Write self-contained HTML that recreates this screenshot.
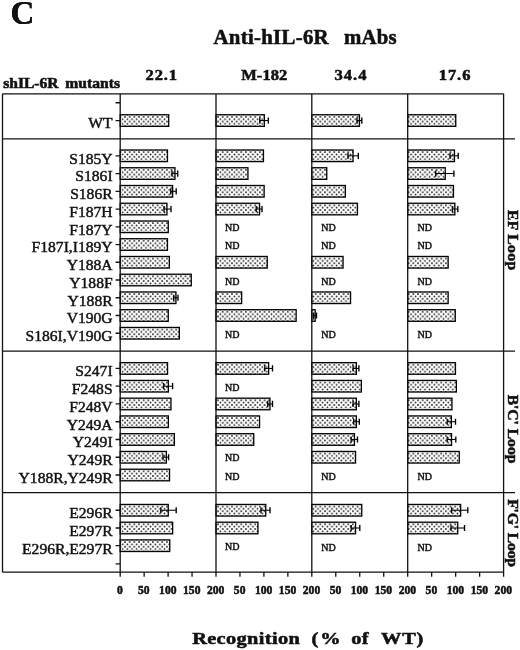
<!DOCTYPE html>
<html><head><meta charset="utf-8"><title>Anti-hIL-6R mAbs recognition of shIL-6R mutants</title>
<style>html,body{margin:0;padding:0;background:#fff;}svg{display:block;}text{font-family:"Liberation Serif","Times New Roman",serif;fill:#111;stroke:#111;stroke-width:0.45px;}.b{font-weight:bold;stroke-width:0.55px;}</style></head><body>
<svg width="520" height="650" viewBox="0 0 520 650">
<defs><pattern id="d0" patternUnits="userSpaceOnUse" width="4.65" height="4.7" x="-0.5" y="116.85"><circle cx="0" cy="0" r="0.85" fill="#111"/><circle cx="4.65" cy="0" r="0.85" fill="#111"/><circle cx="0" cy="4.7" r="0.85" fill="#111"/><circle cx="4.65" cy="4.7" r="0.85" fill="#111"/><circle cx="2.33" cy="2.35" r="0.85" fill="#111"/></pattern><pattern id="d1" patternUnits="userSpaceOnUse" width="4.65" height="4.7" x="-0.5" y="152.10"><circle cx="0" cy="0" r="0.85" fill="#111"/><circle cx="4.65" cy="0" r="0.85" fill="#111"/><circle cx="0" cy="4.7" r="0.85" fill="#111"/><circle cx="4.65" cy="4.7" r="0.85" fill="#111"/><circle cx="2.33" cy="2.35" r="0.85" fill="#111"/></pattern><pattern id="d2" patternUnits="userSpaceOnUse" width="4.65" height="4.7" x="-0.5" y="169.84"><circle cx="0" cy="0" r="0.85" fill="#111"/><circle cx="4.65" cy="0" r="0.85" fill="#111"/><circle cx="0" cy="4.7" r="0.85" fill="#111"/><circle cx="4.65" cy="4.7" r="0.85" fill="#111"/><circle cx="2.33" cy="2.35" r="0.85" fill="#111"/></pattern><pattern id="d3" patternUnits="userSpaceOnUse" width="4.65" height="4.7" x="-0.5" y="187.59"><circle cx="0" cy="0" r="0.85" fill="#111"/><circle cx="4.65" cy="0" r="0.85" fill="#111"/><circle cx="0" cy="4.7" r="0.85" fill="#111"/><circle cx="4.65" cy="4.7" r="0.85" fill="#111"/><circle cx="2.33" cy="2.35" r="0.85" fill="#111"/></pattern><pattern id="d4" patternUnits="userSpaceOnUse" width="4.65" height="4.7" x="-0.5" y="205.34"><circle cx="0" cy="0" r="0.85" fill="#111"/><circle cx="4.65" cy="0" r="0.85" fill="#111"/><circle cx="0" cy="4.7" r="0.85" fill="#111"/><circle cx="4.65" cy="4.7" r="0.85" fill="#111"/><circle cx="2.33" cy="2.35" r="0.85" fill="#111"/></pattern><pattern id="d5" patternUnits="userSpaceOnUse" width="4.65" height="4.7" x="-0.5" y="223.08"><circle cx="0" cy="0" r="0.85" fill="#111"/><circle cx="4.65" cy="0" r="0.85" fill="#111"/><circle cx="0" cy="4.7" r="0.85" fill="#111"/><circle cx="4.65" cy="4.7" r="0.85" fill="#111"/><circle cx="2.33" cy="2.35" r="0.85" fill="#111"/></pattern><pattern id="d6" patternUnits="userSpaceOnUse" width="4.65" height="4.7" x="-0.5" y="240.83"><circle cx="0" cy="0" r="0.85" fill="#111"/><circle cx="4.65" cy="0" r="0.85" fill="#111"/><circle cx="0" cy="4.7" r="0.85" fill="#111"/><circle cx="4.65" cy="4.7" r="0.85" fill="#111"/><circle cx="2.33" cy="2.35" r="0.85" fill="#111"/></pattern><pattern id="d7" patternUnits="userSpaceOnUse" width="4.65" height="4.7" x="-0.5" y="258.57"><circle cx="0" cy="0" r="0.85" fill="#111"/><circle cx="4.65" cy="0" r="0.85" fill="#111"/><circle cx="0" cy="4.7" r="0.85" fill="#111"/><circle cx="4.65" cy="4.7" r="0.85" fill="#111"/><circle cx="2.33" cy="2.35" r="0.85" fill="#111"/></pattern><pattern id="d8" patternUnits="userSpaceOnUse" width="4.65" height="4.7" x="-0.5" y="276.31"><circle cx="0" cy="0" r="0.85" fill="#111"/><circle cx="4.65" cy="0" r="0.85" fill="#111"/><circle cx="0" cy="4.7" r="0.85" fill="#111"/><circle cx="4.65" cy="4.7" r="0.85" fill="#111"/><circle cx="2.33" cy="2.35" r="0.85" fill="#111"/></pattern><pattern id="d9" patternUnits="userSpaceOnUse" width="4.65" height="4.7" x="-0.5" y="294.06"><circle cx="0" cy="0" r="0.85" fill="#111"/><circle cx="4.65" cy="0" r="0.85" fill="#111"/><circle cx="0" cy="4.7" r="0.85" fill="#111"/><circle cx="4.65" cy="4.7" r="0.85" fill="#111"/><circle cx="2.33" cy="2.35" r="0.85" fill="#111"/></pattern><pattern id="d10" patternUnits="userSpaceOnUse" width="4.65" height="4.7" x="-0.5" y="311.81"><circle cx="0" cy="0" r="0.85" fill="#111"/><circle cx="4.65" cy="0" r="0.85" fill="#111"/><circle cx="0" cy="4.7" r="0.85" fill="#111"/><circle cx="4.65" cy="4.7" r="0.85" fill="#111"/><circle cx="2.33" cy="2.35" r="0.85" fill="#111"/></pattern><pattern id="d11" patternUnits="userSpaceOnUse" width="4.65" height="4.7" x="-0.5" y="329.55"><circle cx="0" cy="0" r="0.85" fill="#111"/><circle cx="4.65" cy="0" r="0.85" fill="#111"/><circle cx="0" cy="4.7" r="0.85" fill="#111"/><circle cx="4.65" cy="4.7" r="0.85" fill="#111"/><circle cx="2.33" cy="2.35" r="0.85" fill="#111"/></pattern><pattern id="d12" patternUnits="userSpaceOnUse" width="4.65" height="4.7" x="-0.5" y="364.75"><circle cx="0" cy="0" r="0.85" fill="#111"/><circle cx="4.65" cy="0" r="0.85" fill="#111"/><circle cx="0" cy="4.7" r="0.85" fill="#111"/><circle cx="4.65" cy="4.7" r="0.85" fill="#111"/><circle cx="2.33" cy="2.35" r="0.85" fill="#111"/></pattern><pattern id="d13" patternUnits="userSpaceOnUse" width="4.65" height="4.7" x="-0.5" y="382.51"><circle cx="0" cy="0" r="0.85" fill="#111"/><circle cx="4.65" cy="0" r="0.85" fill="#111"/><circle cx="0" cy="4.7" r="0.85" fill="#111"/><circle cx="4.65" cy="4.7" r="0.85" fill="#111"/><circle cx="2.33" cy="2.35" r="0.85" fill="#111"/></pattern><pattern id="d14" patternUnits="userSpaceOnUse" width="4.65" height="4.7" x="-0.5" y="400.27"><circle cx="0" cy="0" r="0.85" fill="#111"/><circle cx="4.65" cy="0" r="0.85" fill="#111"/><circle cx="0" cy="4.7" r="0.85" fill="#111"/><circle cx="4.65" cy="4.7" r="0.85" fill="#111"/><circle cx="2.33" cy="2.35" r="0.85" fill="#111"/></pattern><pattern id="d15" patternUnits="userSpaceOnUse" width="4.65" height="4.7" x="-0.5" y="418.03"><circle cx="0" cy="0" r="0.85" fill="#111"/><circle cx="4.65" cy="0" r="0.85" fill="#111"/><circle cx="0" cy="4.7" r="0.85" fill="#111"/><circle cx="4.65" cy="4.7" r="0.85" fill="#111"/><circle cx="2.33" cy="2.35" r="0.85" fill="#111"/></pattern><pattern id="d16" patternUnits="userSpaceOnUse" width="4.65" height="4.7" x="-0.5" y="435.79"><circle cx="0" cy="0" r="0.85" fill="#111"/><circle cx="4.65" cy="0" r="0.85" fill="#111"/><circle cx="0" cy="4.7" r="0.85" fill="#111"/><circle cx="4.65" cy="4.7" r="0.85" fill="#111"/><circle cx="2.33" cy="2.35" r="0.85" fill="#111"/></pattern><pattern id="d17" patternUnits="userSpaceOnUse" width="4.65" height="4.7" x="-0.5" y="453.55"><circle cx="0" cy="0" r="0.85" fill="#111"/><circle cx="4.65" cy="0" r="0.85" fill="#111"/><circle cx="0" cy="4.7" r="0.85" fill="#111"/><circle cx="4.65" cy="4.7" r="0.85" fill="#111"/><circle cx="2.33" cy="2.35" r="0.85" fill="#111"/></pattern><pattern id="d18" patternUnits="userSpaceOnUse" width="4.65" height="4.7" x="-0.5" y="471.31"><circle cx="0" cy="0" r="0.85" fill="#111"/><circle cx="4.65" cy="0" r="0.85" fill="#111"/><circle cx="0" cy="4.7" r="0.85" fill="#111"/><circle cx="4.65" cy="4.7" r="0.85" fill="#111"/><circle cx="2.33" cy="2.35" r="0.85" fill="#111"/></pattern><pattern id="d19" patternUnits="userSpaceOnUse" width="4.65" height="4.7" x="-0.5" y="506.55"><circle cx="0" cy="0" r="0.85" fill="#111"/><circle cx="4.65" cy="0" r="0.85" fill="#111"/><circle cx="0" cy="4.7" r="0.85" fill="#111"/><circle cx="4.65" cy="4.7" r="0.85" fill="#111"/><circle cx="2.33" cy="2.35" r="0.85" fill="#111"/></pattern><pattern id="d20" patternUnits="userSpaceOnUse" width="4.65" height="4.7" x="-0.5" y="524.30"><circle cx="0" cy="0" r="0.85" fill="#111"/><circle cx="4.65" cy="0" r="0.85" fill="#111"/><circle cx="0" cy="4.7" r="0.85" fill="#111"/><circle cx="4.65" cy="4.7" r="0.85" fill="#111"/><circle cx="2.33" cy="2.35" r="0.85" fill="#111"/></pattern><pattern id="d21" patternUnits="userSpaceOnUse" width="4.65" height="4.7" x="-0.5" y="542.00"><circle cx="0" cy="0" r="0.85" fill="#111"/><circle cx="4.65" cy="0" r="0.85" fill="#111"/><circle cx="0" cy="4.7" r="0.85" fill="#111"/><circle cx="4.65" cy="4.7" r="0.85" fill="#111"/><circle cx="2.33" cy="2.35" r="0.85" fill="#111"/></pattern></defs>
<rect width="520" height="650" fill="#fff"/>
<text class="b" x="10.4" y="23.6" font-size="33" style="stroke-width:0.15px">C</text>
<text class="b" x="10.4" y="23.6" font-size="33" style="stroke-width:0.15px">C</text>
<text class="b" x="213.45" y="43.7" font-size="20.8" textLength="115.17" lengthAdjust="spacing">Anti-hIL-6R</text>
<text class="b" x="344.04" y="43.7" font-size="20.8" textLength="52.67" lengthAdjust="spacing">mAbs</text>
<text class="b" transform="translate(3.28,87.5) scale(1.07,1)" font-size="14.6" textLength="51.72" lengthAdjust="spacing">shIL-6R</text>
<text class="b" transform="translate(65.18,87.5) scale(1.07,1)" font-size="14.6" textLength="51.36" lengthAdjust="spacing">mutants</text>
<text class="b" transform="translate(145.56,80) scale(1.1,1)" font-size="15" textLength="28.68" lengthAdjust="spacing">22.1</text>
<text class="b" transform="translate(241.22,80) scale(1.1,1)" font-size="15" textLength="41.81" lengthAdjust="spacing">M-182</text>
<text class="b" transform="translate(334.38,80) scale(1.1,1)" font-size="15" textLength="29.25" lengthAdjust="spacing">34.4</text>
<text class="b" transform="translate(438.68,80) scale(1.1,1)" font-size="15" textLength="28.91" lengthAdjust="spacing">17.6</text>
<text transform="translate(112.6,128.45) scale(1.04,1)" font-size="15" text-anchor="end">WT</text>
<text transform="translate(112.6,163.70) scale(1.04,1)" font-size="15" text-anchor="end">S185Y</text>
<text transform="translate(112.6,181.45) scale(1.04,1)" font-size="15" text-anchor="end">S186I</text>
<text transform="translate(112.6,199.19) scale(1.04,1)" font-size="15" text-anchor="end">S186R</text>
<text transform="translate(112.6,216.94) scale(1.04,1)" font-size="15" text-anchor="end">F187H</text>
<text transform="translate(112.6,234.68) scale(1.04,1)" font-size="15" text-anchor="end">F187Y</text>
<text transform="translate(112.6,252.43) scale(1.04,1)" font-size="15" text-anchor="end">F187I,I189Y</text>
<text transform="translate(112.6,270.17) scale(1.04,1)" font-size="15" text-anchor="end">Y188A</text>
<text transform="translate(112.6,287.91) scale(1.04,1)" font-size="15" text-anchor="end">Y188F</text>
<text transform="translate(112.6,305.66) scale(1.04,1)" font-size="15" text-anchor="end">Y188R</text>
<text transform="translate(112.6,323.40) scale(1.04,1)" font-size="15" text-anchor="end">V190G</text>
<text transform="translate(112.6,341.15) scale(1.04,1)" font-size="15" text-anchor="end">S186I,V190G</text>
<text transform="translate(112.6,376.35) scale(1.04,1)" font-size="15" text-anchor="end">S247I</text>
<text transform="translate(112.6,394.11) scale(1.04,1)" font-size="15" text-anchor="end">F248S</text>
<text transform="translate(112.6,411.87) scale(1.04,1)" font-size="15" text-anchor="end">F248V</text>
<text transform="translate(112.6,429.63) scale(1.04,1)" font-size="15" text-anchor="end">Y249A</text>
<text transform="translate(112.6,447.39) scale(1.04,1)" font-size="15" text-anchor="end">Y249I</text>
<text transform="translate(112.6,465.15) scale(1.04,1)" font-size="15" text-anchor="end">Y249R</text>
<text transform="translate(112.6,482.91) scale(1.04,1)" font-size="15" text-anchor="end">Y188R,Y249R</text>
<text transform="translate(112.6,518.15) scale(1.04,1)" font-size="15" text-anchor="end">E296R</text>
<text transform="translate(112.6,535.90) scale(1.04,1)" font-size="15" text-anchor="end">E297R</text>
<text transform="translate(112.6,553.60) scale(1.04,1)" font-size="15" text-anchor="end">E296R,E297R</text>
<text class="b" transform="translate(507.7,209.93) rotate(90) scale(1.05,1)" font-size="15" textLength="57.44" lengthAdjust="spacing">EF Loop</text>
<text class="b" transform="translate(507.7,394.64) rotate(90) scale(1.05,1)" font-size="15" textLength="65.52" lengthAdjust="spacing">B'C' Loop</text>
<text class="b" transform="translate(507.7,499.23) rotate(90) scale(1.05,1)" font-size="15" textLength="64.58" lengthAdjust="spacing">F'G' Loop</text>
<text class="b" transform="translate(192.15,643.8) scale(1.15,1)" font-size="17.7" textLength="93.61" lengthAdjust="spacing">Recognition</text>
<text class="b" transform="translate(311.61,643.8) scale(1.15,1)" font-size="17.7" textLength="25.26" lengthAdjust="spacing">(%</text>
<text class="b" transform="translate(351.22,643.8) scale(1.15,1)" font-size="17.7" textLength="15.07" lengthAdjust="spacing">of</text>
<text class="b" transform="translate(380.96,643.8) scale(1.15,1)" font-size="17.7" textLength="36.90" lengthAdjust="spacing">WT)</text>
<text class="b" transform="translate(119.90,594.1) scale(0.92,1)" font-size="12.6" text-anchor="middle">0</text>
<text class="b" transform="translate(143.85,594.1) scale(0.92,1)" font-size="12.6" text-anchor="middle">50</text>
<text class="b" transform="translate(167.80,594.1) scale(0.92,1)" font-size="12.6" text-anchor="middle">100</text>
<text class="b" transform="translate(191.75,594.1) scale(0.92,1)" font-size="12.6" text-anchor="middle">150</text>
<text class="b" transform="translate(215.70,594.1) scale(0.92,1)" font-size="12.6" text-anchor="middle">200</text>
<text class="b" transform="translate(239.65,594.1) scale(0.92,1)" font-size="12.6" text-anchor="middle">50</text>
<text class="b" transform="translate(263.60,594.1) scale(0.92,1)" font-size="12.6" text-anchor="middle">100</text>
<text class="b" transform="translate(287.55,594.1) scale(0.92,1)" font-size="12.6" text-anchor="middle">150</text>
<text class="b" transform="translate(311.50,594.1) scale(0.92,1)" font-size="12.6" text-anchor="middle">200</text>
<text class="b" transform="translate(335.47,594.1) scale(0.92,1)" font-size="12.6" text-anchor="middle">50</text>
<text class="b" transform="translate(359.45,594.1) scale(0.92,1)" font-size="12.6" text-anchor="middle">100</text>
<text class="b" transform="translate(383.43,594.1) scale(0.92,1)" font-size="12.6" text-anchor="middle">150</text>
<text class="b" transform="translate(407.40,594.1) scale(0.92,1)" font-size="12.6" text-anchor="middle">200</text>
<text class="b" transform="translate(431.38,594.1) scale(0.92,1)" font-size="12.6" text-anchor="middle">50</text>
<text class="b" transform="translate(455.35,594.1) scale(0.92,1)" font-size="12.6" text-anchor="middle">100</text>
<text class="b" transform="translate(479.32,594.1) scale(0.92,1)" font-size="12.6" text-anchor="middle">150</text>
<text class="b" transform="translate(503.30,594.1) scale(0.92,1)" font-size="12.6" text-anchor="middle">200</text>
<rect x="120.20" y="114.75" width="48.50" height="11.6" fill="url(#d0)" stroke="#000" stroke-width="1.3"/>
<rect x="120.20" y="150.00" width="47.25" height="11.6" fill="url(#d1)" stroke="#000" stroke-width="1.3"/>
<rect x="120.20" y="167.75" width="54.75" height="11.6" fill="url(#d2)" stroke="#000" stroke-width="1.3"/>
<path d="M172.00 173.55H177.70" stroke="#000" stroke-width="1.05" fill="none"/><path d="M172.00 170.45V176.65M177.70 170.45V176.65" stroke="#000" stroke-width="1.35" fill="none"/>
<rect x="120.20" y="185.49" width="52.45" height="11.6" fill="url(#d3)" stroke="#000" stroke-width="1.3"/>
<path d="M170.80 191.29H176.20" stroke="#000" stroke-width="1.05" fill="none"/><path d="M170.80 188.19V194.39M176.20 188.19V194.39" stroke="#000" stroke-width="1.35" fill="none"/>
<rect x="120.20" y="203.24" width="46.75" height="11.6" fill="url(#d4)" stroke="#000" stroke-width="1.3"/>
<path d="M164.00 209.04H171.00" stroke="#000" stroke-width="1.05" fill="none"/><path d="M164.00 205.94V212.14M171.00 205.94V212.14" stroke="#000" stroke-width="1.35" fill="none"/>
<rect x="120.20" y="220.98" width="48.05" height="11.6" fill="url(#d5)" stroke="#000" stroke-width="1.3"/>
<rect x="120.20" y="238.73" width="47.25" height="11.6" fill="url(#d6)" stroke="#000" stroke-width="1.3"/>
<rect x="120.20" y="256.47" width="49.15" height="11.6" fill="url(#d7)" stroke="#000" stroke-width="1.3"/>
<rect x="120.20" y="274.21" width="71.05" height="11.6" fill="url(#d8)" stroke="#000" stroke-width="1.3"/>
<rect x="120.20" y="291.96" width="55.75" height="11.6" fill="url(#d9)" stroke="#000" stroke-width="1.3"/>
<path d="M173.70 297.76H178.00" stroke="#000" stroke-width="1.05" fill="none"/><path d="M173.70 294.66V300.86M178.00 294.66V300.86" stroke="#000" stroke-width="1.35" fill="none"/>
<rect x="120.20" y="309.70" width="48.05" height="11.6" fill="url(#d10)" stroke="#000" stroke-width="1.3"/>
<rect x="120.20" y="327.45" width="59.15" height="11.6" fill="url(#d11)" stroke="#000" stroke-width="1.3"/>
<rect x="120.20" y="362.65" width="47.35" height="11.6" fill="url(#d12)" stroke="#000" stroke-width="1.3"/>
<rect x="120.20" y="380.41" width="48.15" height="11.6" fill="url(#d13)" stroke="#000" stroke-width="1.3"/>
<path d="M163.60 386.21H172.60" stroke="#000" stroke-width="1.05" fill="none"/><path d="M163.60 383.11V389.31M172.60 383.11V389.31" stroke="#000" stroke-width="1.35" fill="none"/>
<rect x="120.20" y="398.17" width="50.75" height="11.6" fill="url(#d14)" stroke="#000" stroke-width="1.3"/>
<rect x="120.20" y="415.93" width="48.15" height="11.6" fill="url(#d15)" stroke="#000" stroke-width="1.3"/>
<rect x="120.20" y="433.69" width="54.15" height="11.6" fill="url(#d16)" stroke="#000" stroke-width="1.3"/>
<rect x="120.20" y="451.45" width="46.15" height="11.6" fill="url(#d17)" stroke="#000" stroke-width="1.3"/>
<path d="M163.00 457.25H168.60" stroke="#000" stroke-width="1.05" fill="none"/><path d="M163.00 454.15V460.35M168.60 454.15V460.35" stroke="#000" stroke-width="1.35" fill="none"/>
<rect x="120.20" y="469.21" width="49.35" height="11.6" fill="url(#d18)" stroke="#000" stroke-width="1.3"/>
<rect x="120.20" y="504.45" width="48.05" height="11.6" fill="url(#d19)" stroke="#000" stroke-width="1.3"/>
<path d="M160.80 510.25H176.20" stroke="#000" stroke-width="1.05" fill="none"/><path d="M160.80 507.15V513.35M176.20 507.15V513.35" stroke="#000" stroke-width="1.35" fill="none"/>
<rect x="120.20" y="522.20" width="52.45" height="11.6" fill="url(#d20)" stroke="#000" stroke-width="1.3"/>
<rect x="120.20" y="539.90" width="49.55" height="11.6" fill="url(#d21)" stroke="#000" stroke-width="1.3"/>
<rect x="216.00" y="114.75" width="48.35" height="11.6" fill="url(#d0)" stroke="#000" stroke-width="1.3"/>
<path d="M259.80 120.55H268.30" stroke="#000" stroke-width="1.05" fill="none"/><path d="M259.80 117.45V123.65M268.30 117.45V123.65" stroke="#000" stroke-width="1.35" fill="none"/>
<rect x="216.00" y="150.00" width="47.45" height="11.6" fill="url(#d1)" stroke="#000" stroke-width="1.3"/>
<rect x="216.00" y="167.75" width="31.95" height="11.6" fill="url(#d2)" stroke="#000" stroke-width="1.3"/>
<rect x="216.00" y="185.49" width="48.15" height="11.6" fill="url(#d3)" stroke="#000" stroke-width="1.3"/>
<rect x="216.00" y="203.24" width="43.55" height="11.6" fill="url(#d4)" stroke="#000" stroke-width="1.3"/>
<path d="M256.20 209.04H262.00" stroke="#000" stroke-width="1.05" fill="none"/><path d="M256.20 205.94V212.14M262.00 205.94V212.14" stroke="#000" stroke-width="1.35" fill="none"/>
<text x="224.91" y="231.28" font-size="10">ND</text>
<text x="224.91" y="248.78" font-size="10">ND</text>
<rect x="216.00" y="256.47" width="51.25" height="11.6" fill="url(#d7)" stroke="#000" stroke-width="1.3"/>
<text x="224.91" y="285.38" font-size="10">ND</text>
<rect x="216.00" y="291.96" width="25.65" height="11.6" fill="url(#d9)" stroke="#000" stroke-width="1.3"/>
<rect x="216.00" y="309.70" width="80.15" height="11.6" fill="url(#d10)" stroke="#000" stroke-width="1.3"/>
<text x="224.91" y="337.58" font-size="10">ND</text>
<rect x="216.00" y="362.65" width="52.65" height="11.6" fill="url(#d12)" stroke="#000" stroke-width="1.3"/>
<path d="M264.80 368.45H272.50" stroke="#000" stroke-width="1.05" fill="none"/><path d="M264.80 365.35V371.55M272.50 365.35V371.55" stroke="#000" stroke-width="1.35" fill="none"/>
<text x="224.91" y="391.38" font-size="10">ND</text>
<rect x="216.00" y="398.17" width="53.95" height="11.6" fill="url(#d14)" stroke="#000" stroke-width="1.3"/>
<path d="M267.70 403.97H272.50" stroke="#000" stroke-width="1.05" fill="none"/><path d="M267.70 400.87V407.07M272.50 400.87V407.07" stroke="#000" stroke-width="1.35" fill="none"/>
<rect x="216.00" y="415.93" width="43.55" height="11.6" fill="url(#d15)" stroke="#000" stroke-width="1.3"/>
<rect x="216.00" y="433.69" width="37.75" height="11.6" fill="url(#d16)" stroke="#000" stroke-width="1.3"/>
<text x="224.91" y="460.98" font-size="10">ND</text>
<text x="224.91" y="480.38" font-size="10">ND</text>
<rect x="216.00" y="504.45" width="49.75" height="11.6" fill="url(#d19)" stroke="#000" stroke-width="1.3"/>
<path d="M261.00 510.25H270.00" stroke="#000" stroke-width="1.05" fill="none"/><path d="M261.00 507.15V513.35M270.00 507.15V513.35" stroke="#000" stroke-width="1.35" fill="none"/>
<rect x="216.00" y="522.20" width="41.95" height="11.6" fill="url(#d20)" stroke="#000" stroke-width="1.3"/>
<text x="224.91" y="549.98" font-size="10">ND</text>
<rect x="311.80" y="114.75" width="47.65" height="11.6" fill="url(#d0)" stroke="#000" stroke-width="1.3"/>
<path d="M357.00 120.55H361.80" stroke="#000" stroke-width="1.05" fill="none"/><path d="M357.00 117.45V123.65M361.80 117.45V123.65" stroke="#000" stroke-width="1.35" fill="none"/>
<rect x="311.80" y="150.00" width="41.25" height="11.6" fill="url(#d1)" stroke="#000" stroke-width="1.3"/>
<path d="M348.00 155.80H358.30" stroke="#000" stroke-width="1.05" fill="none"/><path d="M348.00 152.70V158.90M358.30 152.70V158.90" stroke="#000" stroke-width="1.35" fill="none"/>
<rect x="311.80" y="167.75" width="14.95" height="11.6" fill="url(#d2)" stroke="#000" stroke-width="1.3"/>
<rect x="311.80" y="185.49" width="33.55" height="11.6" fill="url(#d3)" stroke="#000" stroke-width="1.3"/>
<rect x="311.80" y="203.24" width="45.65" height="11.6" fill="url(#d4)" stroke="#000" stroke-width="1.3"/>
<text x="321.31" y="231.28" font-size="10">ND</text>
<text x="321.31" y="248.78" font-size="10">ND</text>
<rect x="311.80" y="256.47" width="31.25" height="11.6" fill="url(#d7)" stroke="#000" stroke-width="1.3"/>
<text x="321.31" y="285.38" font-size="10">ND</text>
<rect x="311.80" y="291.96" width="38.75" height="11.6" fill="url(#d9)" stroke="#000" stroke-width="1.3"/>
<rect x="311.80" y="309.70" width="3.35" height="11.6" fill="url(#d10)" stroke="#000" stroke-width="1.3"/>
<path d="M313.50 315.50H316.50" stroke="#000" stroke-width="1.05" fill="none"/><path d="M313.50 312.40V318.61M316.50 312.40V318.61" stroke="#000" stroke-width="1.35" fill="none"/>
<text x="321.31" y="337.58" font-size="10">ND</text>
<rect x="311.80" y="362.65" width="44.55" height="11.6" fill="url(#d12)" stroke="#000" stroke-width="1.3"/>
<path d="M353.10 368.45H358.90" stroke="#000" stroke-width="1.05" fill="none"/><path d="M353.10 365.35V371.55M358.90 365.35V371.55" stroke="#000" stroke-width="1.35" fill="none"/>
<rect x="311.80" y="380.41" width="49.55" height="11.6" fill="url(#d13)" stroke="#000" stroke-width="1.3"/>
<rect x="311.80" y="398.17" width="44.55" height="11.6" fill="url(#d14)" stroke="#000" stroke-width="1.3"/>
<path d="M353.10 403.97H358.90" stroke="#000" stroke-width="1.05" fill="none"/><path d="M353.10 400.87V407.07M358.90 400.87V407.07" stroke="#000" stroke-width="1.35" fill="none"/>
<rect x="311.80" y="415.93" width="44.55" height="11.6" fill="url(#d15)" stroke="#000" stroke-width="1.3"/>
<path d="M353.70 421.73H359.30" stroke="#000" stroke-width="1.05" fill="none"/><path d="M353.70 418.63V424.83M359.30 418.63V424.83" stroke="#000" stroke-width="1.35" fill="none"/>
<rect x="311.80" y="433.69" width="42.65" height="11.6" fill="url(#d16)" stroke="#000" stroke-width="1.3"/>
<path d="M351.20 439.49H357.50" stroke="#000" stroke-width="1.05" fill="none"/><path d="M351.20 436.39V442.59M357.50 436.39V442.59" stroke="#000" stroke-width="1.35" fill="none"/>
<rect x="311.80" y="451.45" width="43.75" height="11.6" fill="url(#d17)" stroke="#000" stroke-width="1.3"/>
<text x="321.31" y="480.38" font-size="10">ND</text>
<rect x="311.80" y="504.45" width="49.95" height="11.6" fill="url(#d19)" stroke="#000" stroke-width="1.3"/>
<rect x="311.80" y="522.20" width="43.75" height="11.6" fill="url(#d20)" stroke="#000" stroke-width="1.3"/>
<path d="M351.20 528.00H359.80" stroke="#000" stroke-width="1.05" fill="none"/><path d="M351.20 524.90V531.10M359.80 524.90V531.10" stroke="#000" stroke-width="1.35" fill="none"/>
<text x="321.31" y="550.88" font-size="10">ND</text>
<rect x="407.70" y="114.75" width="48.05" height="11.6" fill="url(#d0)" stroke="#000" stroke-width="1.3"/>
<rect x="407.70" y="150.00" width="46.75" height="11.6" fill="url(#d1)" stroke="#000" stroke-width="1.3"/>
<path d="M450.00 155.80H458.20" stroke="#000" stroke-width="1.05" fill="none"/><path d="M450.00 152.70V158.90M458.20 152.70V158.90" stroke="#000" stroke-width="1.35" fill="none"/>
<rect x="407.70" y="167.75" width="37.55" height="11.6" fill="url(#d2)" stroke="#000" stroke-width="1.3"/>
<path d="M435.70 173.55H453.90" stroke="#000" stroke-width="1.05" fill="none"/><path d="M435.70 170.45V176.65M453.90 170.45V176.65" stroke="#000" stroke-width="1.35" fill="none"/>
<rect x="407.70" y="185.49" width="45.75" height="11.6" fill="url(#d3)" stroke="#000" stroke-width="1.3"/>
<rect x="407.70" y="203.24" width="47.15" height="11.6" fill="url(#d4)" stroke="#000" stroke-width="1.3"/>
<path d="M452.40 209.04H457.80" stroke="#000" stroke-width="1.05" fill="none"/><path d="M452.40 205.94V212.14M457.80 205.94V212.14" stroke="#000" stroke-width="1.35" fill="none"/>
<text x="417.51" y="231.28" font-size="10">ND</text>
<text x="417.51" y="248.78" font-size="10">ND</text>
<rect x="407.70" y="256.47" width="40.45" height="11.6" fill="url(#d7)" stroke="#000" stroke-width="1.3"/>
<text x="417.51" y="285.38" font-size="10">ND</text>
<rect x="407.70" y="291.96" width="40.45" height="11.6" fill="url(#d9)" stroke="#000" stroke-width="1.3"/>
<rect x="407.70" y="309.70" width="47.55" height="11.6" fill="url(#d10)" stroke="#000" stroke-width="1.3"/>
<text x="417.51" y="337.58" font-size="10">ND</text>
<rect x="407.70" y="362.65" width="47.75" height="11.6" fill="url(#d12)" stroke="#000" stroke-width="1.3"/>
<rect x="407.70" y="380.41" width="48.65" height="11.6" fill="url(#d13)" stroke="#000" stroke-width="1.3"/>
<rect x="407.70" y="398.17" width="44.25" height="11.6" fill="url(#d14)" stroke="#000" stroke-width="1.3"/>
<rect x="407.70" y="415.93" width="43.65" height="11.6" fill="url(#d15)" stroke="#000" stroke-width="1.3"/>
<path d="M447.20 421.73H455.50" stroke="#000" stroke-width="1.05" fill="none"/><path d="M447.20 418.63V424.83M455.50 418.63V424.83" stroke="#000" stroke-width="1.35" fill="none"/>
<rect x="407.70" y="433.69" width="43.85" height="11.6" fill="url(#d16)" stroke="#000" stroke-width="1.3"/>
<path d="M447.20 439.49H455.80" stroke="#000" stroke-width="1.05" fill="none"/><path d="M447.20 436.39V442.59M455.80 436.39V442.59" stroke="#000" stroke-width="1.35" fill="none"/>
<rect x="407.70" y="451.45" width="51.55" height="11.6" fill="url(#d17)" stroke="#000" stroke-width="1.3"/>
<text x="417.51" y="480.38" font-size="10">ND</text>
<rect x="407.70" y="504.45" width="52.95" height="11.6" fill="url(#d19)" stroke="#000" stroke-width="1.3"/>
<path d="M451.60 510.25H467.80" stroke="#000" stroke-width="1.05" fill="none"/><path d="M451.60 507.15V513.35M467.80 507.15V513.35" stroke="#000" stroke-width="1.35" fill="none"/>
<rect x="407.70" y="522.20" width="50.05" height="11.6" fill="url(#d20)" stroke="#000" stroke-width="1.3"/>
<path d="M451.00 528.00H464.50" stroke="#000" stroke-width="1.05" fill="none"/><path d="M451.00 524.90V531.10M464.50 524.90V531.10" stroke="#000" stroke-width="1.35" fill="none"/>
<text x="417.51" y="550.88" font-size="10">ND</text>
<path d="M2.5 93.85H503.6 M2.5 138.85H515 M2.5 351.15H515 M2.5 492.7H515 M2.5 572.2H503.6 M2.5 93.85V572.2 M120.2 93.85V576.7 M216.0 93.85V576.7 M311.8 93.85V576.7 M407.7 93.85V576.7 M503.6 93.85V576.7 M144.15 572.2V576.7 M168.10 572.2V576.7 M192.05 572.2V576.7 M239.95 572.2V576.7 M263.90 572.2V576.7 M287.85 572.2V576.7 M335.77 572.2V576.7 M359.75 572.2V576.7 M383.73 572.2V576.7 M431.68 572.2V576.7 M455.65 572.2V576.7 M479.62 572.2V576.7 M115.6 120.55H120.2 M115.6 155.80H120.2 M115.6 173.55H120.2 M115.6 191.29H120.2 M115.6 209.04H120.2 M115.6 226.78H120.2 M115.6 244.53H120.2 M115.6 262.27H120.2 M115.6 280.01H120.2 M115.6 297.76H120.2 M115.6 315.50H120.2 M115.6 333.25H120.2 M115.6 368.45H120.2 M115.6 386.21H120.2 M115.6 403.97H120.2 M115.6 421.73H120.2 M115.6 439.49H120.2 M115.6 457.25H120.2 M115.6 475.01H120.2 M115.6 510.25H120.2 M115.6 528.00H120.2 M115.6 545.70H120.2 M115.6 102.75H120.2 M115.6 563.80H120.2" stroke="#111" stroke-width="1.3" fill="none"/>
</svg>
</body></html>
